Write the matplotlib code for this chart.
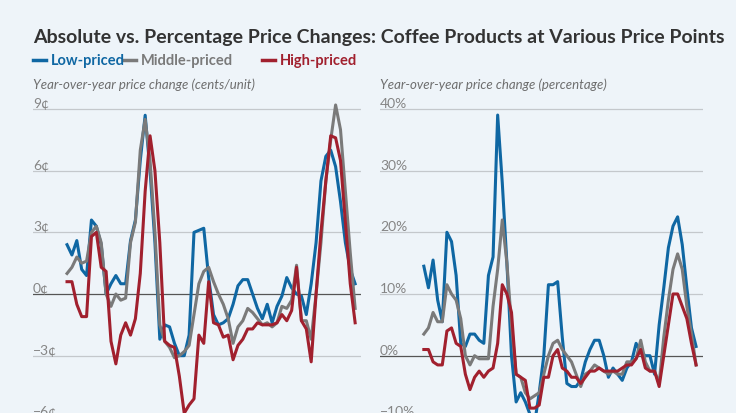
import matplotlib.pyplot as plt
import numpy as np

plt.rcParams['font.family'] = ['Lato', 'DejaVu Sans']

cents_low = [2.4,1.9,2.6,1.2,0.9,3.6,3.3,2.4,0,0.5,0.9,0.5,0.5,2.6,3.6,6.5,8.7,6,2.5,-2.2,
             -1.5,-1.6,-2.4,-3,-3,-2,3,3.1,3.2,0.8,-1,-1.5,-1.4,-1.2,-0.5,0.4,0.7,0.7,0,-0.7,
             -1.2,-0.5,-1.4,-0.6,-0.1,0.8,0.3,0,-0.1,-1,0.5,2.5,5.5,6.7,7,6.2,4.5,2.5,1.2,0.5]
cents_mid = [1.0,1.3,1.8,1.5,1.6,3.0,3.3,2.5,0,-0.6,0,-0.3,-0.2,2.5,3.5,7,8.5,6.5,3,-1.5,
             -2.3,-2.6,-3.1,-3,-2.8,-2.5,-1,0.5,1.1,1.3,0.6,0,-0.5,-1.2,-2.4,-1.6,-1.3,-0.7,-0.9,-1.2,
             -1.5,-1.4,-1.6,-1.4,-0.6,-0.7,-0.3,1.4,-1.3,-1.3,-2.2,0,2.5,5.5,7.5,9.2,8,5,2,-0.7]
cents_high = [0.6,0.6,-0.5,-1.1,-1.1,2.8,3.0,1.3,1.1,-2.3,-3.4,-2,-1.4,-2,-1.2,1,5,7.7,6,2.5,
              -2.3,-2.5,-2.6,-4,-5.8,-5.4,-5.1,-2,-2.4,0.6,-1.4,-1.5,-2.1,-2.0,-3.2,-2.5,-2.2,-1.7,-1.7,-1.4,
              -1.5,-1.5,-1.5,-1.4,-1.0,-1.3,-0.8,1.3,-1.3,-1.7,-3.3,0,3,5.5,7.7,7.6,6.5,3.5,0.5,-1.4]

pct_low = [14.5,11,15.5,9,5.5,20,18.5,13,2,1.5,3.5,3.5,2.5,2,13,16,39,28,15,0,
           -7.5,-6,-7.5,-9.5,-11,-6,0,11.5,11.5,12,3,-4.5,-5,-5,-4,-1,1,2.5,2.5,0,
           -3.5,-2,-3,-4,-2,-1,2,0.5,0,0,-3,5,11,17.5,21,22.5,18,11,4.5,1.5]
pct_mid = [3.5,4.5,7,5.5,5.5,11.5,10,9,6,0,-1.5,0,-0.5,-0.5,-0.5,8,14,22,15,5,
           -3,-3.5,-6,-7,-6.5,-6,-3,0,2,2.5,1,0,-1,-3,-5,-3,-2.5,-1.5,-2,-2.5,
           -3,-2.5,-3,-3,-1,-1,-0.5,2.5,-1,-2.5,-2.5,-4.5,3,9,14,16.5,14,8,3.5,-1.5]
pct_high = [1,1,-1,-1.5,-1.5,4,4.5,2,1.5,-3,-5.5,-3.5,-2.5,-3.5,-2.5,-2,2,11.5,10,7,
            -3,-3.5,-4,-8.5,-8.5,-8,-3.5,-3.5,0,1,-2,-2.5,-3.5,-3.5,-4.5,-3.5,-2.5,-2.5,-2,-2.5,
            -2.5,-2.5,-2.5,-2,-1.5,-1.5,-0.5,1,-2,-2.5,-2.5,-5,0,5,10,10,8,6,2,-1.5]

labels = ['Low-priced', 'Middle-priced', 'High-priced']
colors = ['#0f67a3', '#7a7a7a', '#a1202e']
bg = '#eef4f9'

fig = plt.figure(figsize=(7.36, 4.14), dpi=100, facecolor=bg)
axl = fig.add_axes([33/736, 0, 328/736, 1 - 100/414], facecolor=bg)
axr = fig.add_axes([380/736, 0, 323/736, 1 - 100/414], facecolor=bg)

x = np.arange(len(cents_low))

def draw(ax, series, ticks, fmt, xlim, ylim, sub, subx):
    for s, c in zip(series, colors):
        ax.plot(x, s, color=c, lw=2.2, solid_joinstyle='round')
    ax.set_xlim(*xlim)
    ax.set_ylim(*ylim)
    for t in ticks:
        ax.axhline(t, color='#555555' if t == 0 else '#c4c8cc', lw=0.9, zorder=0)
        lab = fmt(t).replace('-', '\u2212')
        ax.text(0, t, lab, transform=ax.get_yaxis_transform(), va='bottom',
                ha='left', fontsize=10, color='#858585', clip_on=False)
    for sp in ax.spines.values():
        sp.set_visible(False)
    ax.set_xticks([])
    ax.set_yticks([])
    fig.text(subx/736, 1 - 85/414, sub, style='italic', fontsize=9.5,
             color='#6e6e6e', va='center', ha='left')

draw(axl, [cents_low, cents_mid, cents_high], [-6, -3, 0, 3, 6, 9],
     lambda t: f'{t}\u00a2', (-6.97, 60.2), (-5.79, 9.49),
     'Year-over-year price change (cents/unit)', 33)
draw(axr, [pct_low, pct_mid, pct_high], [-10, 0, 10, 20, 30, 40],
     lambda t: f'{t}%', (-9.5, 60.5), (-9.29, 41.6),
     'Year-over-year price change (percentage)', 380)

fig.text(33/736, 1 - 38/414, 'Absolute vs. Percentage Price Changes: Coffee Products at Various Price Points',
         fontsize=14, fontweight='bold', color='#333333', va='center', ha='left')

lx = [33, 123, 262]
for xs, lab, c in zip(lx, labels, colors):
    fig.add_artist(plt.Line2D([xs/736, (xs + 13)/736], [1 - 61/414] * 2, color=c, lw=2.5))
    fig.text((xs + 18)/736, 1 - 61/414, lab, fontsize=10.5, fontweight='bold', color=c,
             va='center', ha='left')

fig.savefig('out.png', dpi=100, facecolor=bg)
